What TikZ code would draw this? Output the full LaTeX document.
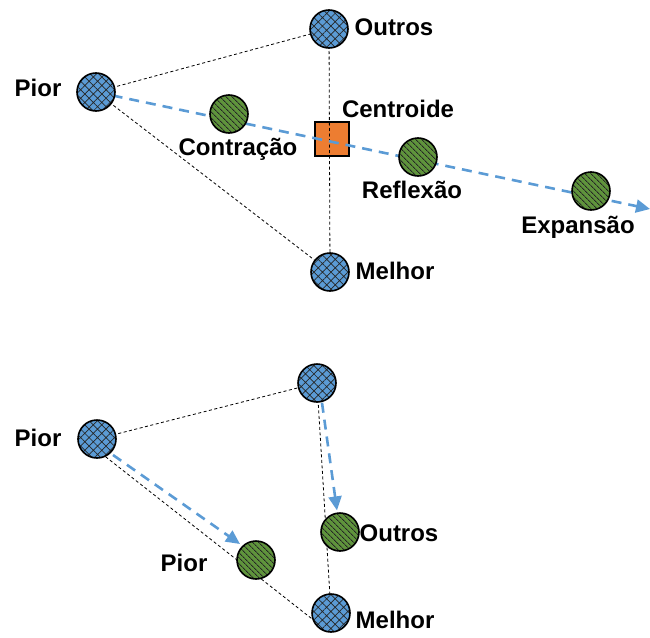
\documentclass[tikz,border=0pt]{standalone}
\usepackage{fontspec}
\setmainfont{Liberation Sans}
\usetikzlibrary{patterns.meta,arrows.meta}
\definecolor{blueC}{HTML}{5B9BD5}
\definecolor{greenC}{HTML}{70AD47}
\definecolor{orangeC}{HTML}{ED7D31}
\tikzset{
  x=1pt,y=-1pt,
  bluept/.style={circle,draw=black,line width=1.6pt,minimum size=38pt,inner sep=0pt,
    preaction={fill=blueC},pattern={Hatch[angle=45,distance=6pt,line width=0.7pt]},pattern color=black!85},
  greenpt/.style={circle,draw=black,line width=1.6pt,minimum size=38pt,inner sep=0pt,
    preaction={fill=greenC!85!black},pattern={Lines[angle=-45,distance=4pt,line width=0.9pt]},pattern color=black!85},
  centbox/.style={rectangle,draw=black,line width=1.6pt,fill=orangeC,minimum size=34pt,inner sep=0pt},
  lbl/.style={font=\fontsize{24}{28}\selectfont\bfseries,inner sep=0pt,anchor=base},
  thin/.style={draw=black,line width=0.8pt,dash pattern=on 3pt off 2.5pt},
  bluearrow/.style={draw=blueC,line width=2.6pt,dash pattern=on 10pt off 7pt,
    -{Triangle[length=14pt,width=13pt]}},
}
\begin{document}
\begin{tikzpicture}
\useasboundingbox (0,0) rectangle (650,637);
% ---------- top diagram ----------
\node[centbox] (cent) at (332,139) {};
\coordinate (pc) at (96,92);
\coordinate (oc) at (329,29);
\coordinate (mc) at (330,272);
\coordinate (aend) at (650,209);
\draw[thin] (pc) -- (oc);
\draw[thin] (pc) -- (mc);
\draw[thin] (oc) -- (mc);
\draw[bluearrow] (pc) -- (aend);
\node[bluept] (pior) at (pc) {};
\node[bluept] (outros) at (oc) {};
\node[bluept] (melhor) at (mc) {};
\node[greenpt] (contr) at (229,114) {};
\node[greenpt] (refl) at (418,157) {};
\node[greenpt] (expa) at (591,191) {};
\node[lbl] (lpior) at (38,96) {Pior};
\node[lbl] (loutros) at (394,35) {Outros};
\node[lbl] (lcent) at (398,117.5) {Centroide};
\node[lbl] (lcontr) at (238,155) {Contração};
\node[lbl] (lrefl) at (412,198.5) {Reflexão};
\node[lbl] (lexpa) at (578,233) {Expansão};
\node[lbl] (lmelhor) at (395,279) {Melhor};
% ---------- bottom diagram ----------
\coordinate (pc2) at (97,439);
\coordinate (tc2) at (317,383);
\coordinate (mc2) at (331,613);
\draw[thin] (pc2) -- (tc2);
\draw[thin] (tc2) -- (mc2);
\draw[thin] ([yshift=-11pt]pc2) -- ([xshift=-15pt,yshift=-9pt]mc2);
\node[bluept] (pior2) at (pc2) {};
\node[bluept] (top2) at (tc2) {};
\node[bluept] (melhor2) at (mc2) {};
\node[greenpt] (piorg) at (256,560) {};
\node[greenpt] (outrosg) at (340,532) {};
\draw[bluearrow] ([xshift=2pt,yshift=-2pt]pior2.south east) -- ([xshift=-2pt,yshift=2pt]piorg.north west);
\draw[bluearrow,shorten >=2pt] ([xshift=5pt]top2.south) -- (outrosg);
\node[lbl] (lpior2) at (38,446.5) {Pior};
\node[lbl] (lpiorg) at (184,571) {Pior};
\node[lbl] (loutrosg) at (399,541.5) {Outros};
\node[lbl] (lmelhor2) at (395,628.5) {Melhor};
\end{tikzpicture}
\end{document}
